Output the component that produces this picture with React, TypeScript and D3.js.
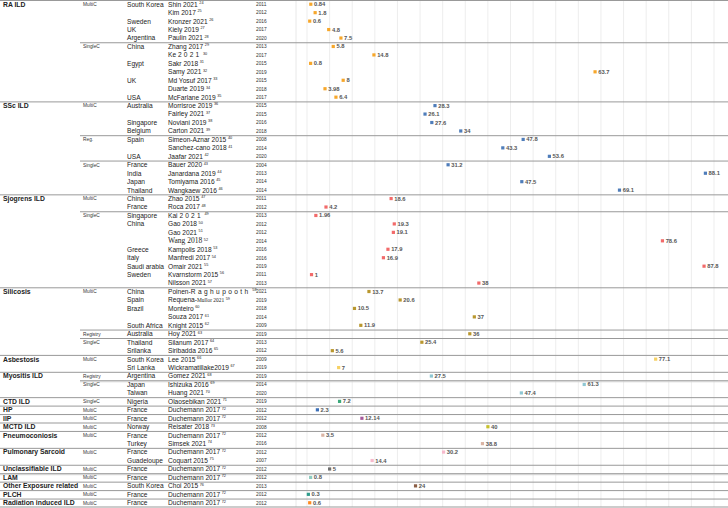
import React from "react";
import * as d3 from "d3";

const diseases = ["RA ILD", "SSc ILD", "Sjogrens ILD", "Silicosis", "Asbestosis", "Myositis  ILD", "CTD ILD", "HP", "IIP", "MCTD ILD", "Pneumoconiosis", "Pulmonary Sarcoid", "Unclassifiable ILD", "LAM", "Other Exposure related", "PLCH", "Radiation induced ILD"];
const diseaseCounts = [12, 11, 11, 8, 2, 3, 1, 1, 1, 1, 2, 2, 1, 1, 1, 1, 1];
const diseaseColors = ["#F7A72A", "#4F7DBA", "#F26A6A", "#B9972E", "#F6D164", "#8FC7D3", "#3CA97B", "#3D70B8", "#A65A9C", "#C7C12C", "#DAB4A4", "#F7B9CC", "#6F6F6F", "#8ECCC1", "#8B5E45", "#2F9C8C", "#FF8A1E"];

const centerTypes = [
  "MultiC", "", "", "", "", "SingleC", "", "", "", "", "", "",
  "MultiC", "", "", "", "Reg.", "", "", "SingleC", "", "", "",
  "MultiC", "", "SingleC", "", "", "", "", "", "", "", "",
  "MultiC", "", "", "", "", "Registry", "SingleC", "",
  "MultiC", "",
  "Registry", "SingleC", "",
  "SingleC", "MultiC", "MultiC", "MultiC", "MultiC", "", "MultiC", "", "MultiC", "MultiC", "MultiC", "MultiC", "MultiC",
];

const countries = [
  "South Korea", "", "Sweden", "UK", "Argentina", "China", "", "Egypt", "", "UK", "", "USA",
  "Australia", "", "Singapore", "Belgium", "Spain", "", "USA", "France", "India", "Japan", "Thailand",
  "China", "France", "Singapore", "China", "", "", "Greece", "Italy", "Saudi arabia", "Sweden", "",
  "China", "Spain", "Brazil", "", "South Africa", "Australia", "Thailand", "Srilanka",
  "South Korea", "Sri Lanka",
  "Argentina", "Japan", "Taiwan",
  "Nigeria", "France", "France", "Norway", "France", "Turkey", "France", "Guadeloupe", "France", "France", "South Korea", "France", "France",
];

const studies = [
  "Shin 2021", "Kim 2017", "Kronzer 2021", "Kiely 2019", "Paulin 2021", "Zhang 2017", "Ke 2021", "Sakr 2018", "Samy 2021", "Md Yosuf 2017", "Duarte 2019", "McFarlane 2019",
  "Morrisroe 2019", "Fairley 2021", "Noviani 2019", "Carton 2021", "Simeon-Aznar 2015", "Sanchez-cano 2018", "Jaafar 2021", "Bauer 2020", "Janardana 2019", "Tomiyama 2016", "Wangkaew 2016",
  "Zhao 2015", "Roca 2017", "Kai 2021", "Gao 2018", "Gao 2021", "Wang 2018", "Kampolis 2018", "Manfredi 2017", "Omair 2021", "Kvarnstorm 2015", "Nilsson 2021",
  "Poinen-Raghupooth", "Requena-Mullor 2021", "Monteiro", "Souza 2017", "Knight 2015", "Hoy 2021", "Silanum 2017", "Siribadda 2016",
  "Lee 2015", "Wickramatillake2019",
  "Gomez 2021", "Ishizuka 2016", "Huang 2021",
  "Olaosebikan 2021", "Duchemann 2017", "Duchemann 2017", "Reisater 2018", "Duchemann 2017", "Simsek 2021", "Duchemann 2017", "Coquart 2015", "Duchemann 2017", "Duchemann 2017", "Choi 2015", "Duchemann 2017", "Duchemann 2017",
];

const refs = [
  24, 25, 26, 27, 28, 29, 30, 31, 32, 33, 34, 35,
  36, 37, 38, 39, 40, 41, 42, 43, 44, 45, 46,
  47, 48, 49, 50, 51, 52, 53, 54, 55, 56, 57,
  58, 59, 60, 61, 62, 63, 64, 65,
  66, 67,
  68, 69, 70,
  71, 72, 72, 73, 72, 74, 72, 75, 72, 72, 76, 72, 72,
];

const years = [
  2011, 2012, 2016, 2017, 2020, 2013, 2017, 2015, 2019, 2015, 2018, 2017,
  2015, 2015, 2016, 2018, 2008, 2014, 2020, 2004, 2013, 2014, 2014,
  2011, 2012, 2013, 2012, 2012, 2014, 2016, 2016, 2019, 2011, 2013,
  2021, 2019, 2018, 2014, 2009, 2019, 2013, 2012,
  2009, 2019,
  2019, 2014, 2020,
  2019, 2012, 2012, 2008, 2012, 2016, 2012, 2007, 2012, 2012, 2013, 2012, 2012,
];

const values = [
  0.84, 1.8, 0.6, 4.8, 7.5, 5.8, 14.8, 0.8, 63.7, 8, 3.98, 6.4,
  28.3, 26.1, 27.6, 34, 47.8, 43.3, 53.6, 31.2, 88.1, 47.5, 69.1,
  18.6, 4.2, 1.96, 19.3, 19.1, 78.6, 17.9, 16.9, 87.8, 1, 38,
  13.7, 20.6, 10.5, 37, 11.9, 36, 25.4, 5.6,
  77.1, 7,
  27.5, 61.3, 47.4,
  7.2, 2.3, 12.14, 40, 3.5, 38.8, 30.2, 14.4, 5, 0.8, 24, 0.3, 0.6,
];

const W = 728;
const H = 508;
const FONT = "'Liberation Sans', Arial, sans-serif";
const SERIF = "'Liberation Serif', 'DejaVu Serif', serif";

function StudyLabel({ s }: { s: string }) {
  // reproduce the odd font mixing of the source table
  if (s === "Wang 2018") return <tspan fontFamily={SERIF} fontSize={7.5}>{s}</tspan>;
  if (s === "Requena-Mullor 2021")
    return (
      <>
        <tspan>Requena-</tspan>
        <tspan fontFamily={SERIF} fontSize={5.4}>Mullor 2021</tspan>
      </>
    );
  if (s === "Poinen-Raghupooth")
    return (
      <>
        <tspan>Poinen-</tspan>
        <tspan letterSpacing={2.4}>Raghupooth</tspan>
      </>
    );
  if (s === "Ke 2021" || s === "Kai 2021") {
    const [a, b] = s.split(" ");
    return (
      <>
        <tspan>{a} </tspan>
        <tspan letterSpacing={2.2}>{b}</tspan>
      </>
    );
  }
  return <tspan>{s}</tspan>;
}

export default function App() {
  const n = values.length;
  const idx = d3.range(n);
  const y = d3.scaleBand<number>().domain(idx).range([0, 507]).padding(0);
  const x = d3.scaleLinear().domain([0, 90]).range([307, 714]);
  const gridTicks = d3.range(0, 91, 5);

  const rowDisease: number[] = [];
  const groupStarts: number[] = [];
  let acc = 0;
  diseaseCounts.forEach((c, i) => {
    groupStarts.push(acc);
    for (let k = 0; k < c; k++) rowDisease.push(i);
    acc += c;
  });
  const groupStartSet = new Set(groupStarts);
  const subStarts = idx.filter((i) => centerTypes[i] !== "" && !groupStartSet.has(i));
  const bw = y.bandwidth();
  const cy = (i: number) => (y(i) as number) + bw / 2;

  return (
    <svg width={W} height={H} style={{ position: "absolute", left: 0, top: 0, background: "#fff" }} fontFamily={FONT}>
      {gridTicks.map((t) => (
        <line key={"g" + t} x1={x(t)} x2={x(t)} y1={0} y2={507} stroke="#e8e8e8" strokeWidth={0.8} />
      ))}
      <line x1={296} x2={296} y1={0} y2={507} stroke="#e2e2e2" strokeWidth={0.8} />

      {groupStarts.map((s, i) => (
        <line key={"gs" + i} x1={0} x2={W} y1={(y(s) as number) + 0.5} y2={(y(s) as number) + 0.5} stroke="#999" strokeWidth={1} />
      ))}
      <line x1={0} x2={W} y1={507} y2={507} stroke="#999" strokeWidth={1} />
      {subStarts.map((s) => (
        <line key={"ss" + s} x1={80} x2={W} y1={(y(s) as number) + 0.5} y2={(y(s) as number) + 0.5} stroke="#999" strokeWidth={1} />
      ))}
      {[studies.indexOf("Ishizuka 2016"), studies.length - 4].map((s, k) => (
        <line key={"dl" + k} x1={k === 0 ? 80 : 0} x2={W} y1={(y(s) as number) + 1.5} y2={(y(s) as number) + 1.5} stroke="#cfcfcf" strokeWidth={1} />
      ))}

      {groupStarts.map((s, i) => (
        <text key={"d" + i} x={3} y={cy(s) + 2.4} fontSize={6.8} fontWeight="bold" fill="#222">
          {diseases[i]}
        </text>
      ))}

      {idx.map((i) => (
        <g key={"r" + i}>
          {centerTypes[i] && (
            <text x={83} y={cy(i) + 1.8} fontSize={4.8} fill="#333">
              {centerTypes[i]}
            </text>
          )}
          {countries[i] && (
            <text x={127} y={cy(i) + 2.4} fontSize={6.6} fill="#222">
              {countries[i]}
            </text>
          )}
          <text x={168} y={cy(i) + 2.4} fontSize={6.6} fill="#222">
            <StudyLabel s={studies[i]} />
            <tspan dx={1.6} dy={-2.6} fontSize={3.8} fontFamily={FONT}>
              {refs[i]}
            </tspan>
          </text>
          <text x={256} y={cy(i) + 1.8} fontSize={4.8} fill="#333">
            {years[i]}
          </text>
        </g>
      ))}

      {idx.map((i) => (
        <g key={"m" + i}>
          <rect x={x(values[i]) - 1.6} y={cy(i) - 1.6} width={3.2} height={3.2} fill={diseaseColors[rowDisease[i]]} />
          <text x={x(values[i]) + 3.2} y={cy(i) + 2} fontSize={5.8} fontWeight="bold" fill="#555">
            {values[i]}
          </text>
        </g>
      ))}
    </svg>
  );
}
